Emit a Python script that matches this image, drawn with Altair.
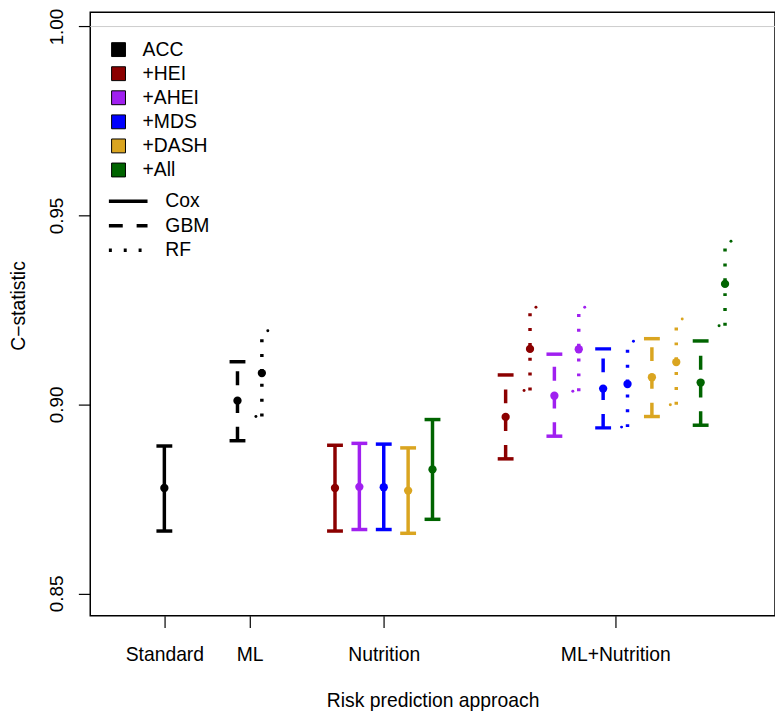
import altair as alt
import pandas as pd

# ---- data ----
series_names = ["ACC", "+HEI", "+AHEI", "+MDS", "+DASH", "+All"]
series_colors = ["#000000", "#8B0000", "#A020F0", "#0000FF", "#DAA520", "#006400"]
model_names = ["Cox", "GBM", "RF"]
model_dashes = [[1, 0], [14, 14], [3, 12]]

x_pos = [0, 3, 4, 7, 8, 9, 10, 11, 14, 15, 16, 17, 18, 19, 20, 21, 22, 23]
series = ["ACC", "ACC", "ACC", "+HEI", "+AHEI", "+MDS", "+DASH", "+All",
          "+HEI", "+HEI", "+AHEI", "+AHEI", "+MDS", "+MDS", "+DASH", "+DASH", "+All", "+All"]
model = ["Cox", "GBM", "RF", "Cox", "Cox", "Cox", "Cox", "Cox",
         "GBM", "RF", "GBM", "RF", "GBM", "RF", "GBM", "RF", "GBM", "RF"]
estimate = [0.8779, 0.9010, 0.9083, 0.8779, 0.8782, 0.8781, 0.8772, 0.8828,
            0.8967, 0.9147, 0.9023, 0.9146, 0.9042, 0.9054, 0.9072, 0.9112, 0.9058, 0.9319]
lower = [0.8665, 0.8904, 0.8968, 0.8665, 0.8669, 0.8669, 0.8659, 0.8696,
         0.8856, 0.9037, 0.8916, 0.9035, 0.8938, 0.8940, 0.8968, 0.8999, 0.8945, 0.9208]
upper = [0.8890, 0.9113, 0.9195, 0.8892, 0.8897, 0.8895, 0.8885, 0.8960,
         0.9078, 0.9257, 0.9133, 0.9257, 0.9147, 0.9167, 0.9174, 0.9226, 0.9168, 0.9432]

tick_values = [0, 3.5, 9, 18.5]
tick_labels = ["Standard", "ML", "Nutrition", "ML+Nutrition"]
y_ticks = [0.85, 0.90, 0.95, 1.00]
ref_line = [1.0]

df = pd.DataFrame({"x": x_pos, "series": series, "group": series, "model": model,
                   "estimate": estimate, "lower": lower, "upper": upper})

FONT = "Liberation Sans"

label_expr = ""
for v, lab in zip(tick_values, tick_labels):
    label_expr += f"datum.value == {v} ? '{lab}' : "
label_expr += "''"

x_axis = alt.Axis(values=tick_values, labelExpr=label_expr, tickSize=12, tickColor="black",
                  tickWidth=1.2, labelPadding=33, labelBaseline="alphabetic",
                  labelFontSize=19.5, labelFont=FONT, labelColor="black", domain=False,
                  grid=False, labelFlush=False, labelOverlap=False,
                  titleFontSize=19.5, titleFont=FONT, titleFontWeight="normal",
                  titleColor="black", titleBaseline="alphabetic", titleY=92, titleX=345.5)
y_axis = alt.Axis(values=y_ticks, format=".2f", labelAngle=270, labelAlign="center",
                  labelBaseline="alphabetic", labelPadding=16, tickSize=12, tickColor="black",
                  tickWidth=1.2, domain=False, grid=False, labelFontSize=19, labelFont=FONT,
                  labelColor="black", labelOverlap=False,
                  titleFontSize=19.5, titleFont=FONT, titleFontWeight="normal",
                  titleColor="black", titleAngle=270, titleAlign="center",
                  titleBaseline="alphabetic", titleX=-66, titleY=296)

x_scale = alt.Scale(domain=[-3.04, 25.05], nice=False, zero=False)
y_scale = alt.Scale(domain=[0.8441, 1.0038], nice=False, zero=False)

X = alt.X("x:Q", scale=x_scale, axis=x_axis, title="Risk prediction approach")


def Y(field):
    return alt.Y(f"{field}:Q", scale=y_scale, axis=y_axis, title="C−statistic")


# mark colours (no legend); domain listed in reverse so that it is a distinct scale
# from the legend-bearing fill scale (same mapping)
mark_scale = alt.Scale(domain=series_names[::-1], range=series_colors[::-1])


def C():
    return alt.Color("series:N", scale=mark_scale, legend=None)


base = alt.Chart(df)

ref = alt.Chart(pd.DataFrame({"v": ref_line})).mark_rule(
    color="#cccccc", strokeWidth=1).encode(y=Y("v"))

bars = base.mark_rule(strokeWidth=3.5).encode(
    x=X, y=Y("lower"), y2="upper:Q",
    stroke=alt.Stroke("series:N", scale=mark_scale, legend=None),
    strokeDash=alt.StrokeDash(
        "model:N", scale=alt.Scale(domain=model_names, range=model_dashes),
        legend=alt.Legend(title=None, orient="none", legendX=16.8, legendY=181,
                          symbolType="stroke", symbolSize=1521, symbolStrokeColor="black",
                          symbolStrokeWidth=3.5, labelFontSize=19.5, labelFont=FONT,
                          labelColor="black", labelOffset=16, rowPadding=3.7,
                          clipHeight=19.5, padding=0)))

caps = base.transform_filter("datum.model != 'RF'").transform_fold(
    ["lower", "upper"], as_=["end", "val"]
).mark_tick(orient="horizontal", size=16, thickness=3.5, opacity=1).encode(
    x=X, y=Y("val"), color=C())

rf_low = base.transform_filter("datum.model == 'RF'").mark_circle(
    size=9, opacity=1, xOffset=-6).encode(x=X, y=Y("lower"), color=C())
rf_up = base.transform_filter("datum.model == 'RF'").mark_circle(
    size=9, opacity=1, xOffset=6).encode(x=X, y=Y("upper"), color=C())

points = base.mark_circle(size=70, opacity=1).encode(
    x=X, y=Y("estimate"),
    fill=alt.Fill("group:N", scale=alt.Scale(domain=series_names, range=series_colors),
                  legend=alt.Legend(title=None, orient="none", legendX=18.8, legendY=28,
                                    symbolType="square", symbolSize=196,
                                    symbolStrokeColor="black", symbolStrokeWidth=1,
                                    symbolOpacity=1, labelFontSize=19.5, labelFont=FONT,
                                    labelColor="black", labelOffset=14.5, rowPadding=3.3,
                                    clipHeight=19.5, padding=0)))

chart = alt.layer(ref, bars, caps, rf_low, rf_up, points).properties(
    width=691, height=609,
    autosize=alt.AutoSizeParams(type="none"),
    padding={"left": 83, "top": 1, "right": 0, "bottom": 97},
    background="white",
).configure_view(stroke="black", strokeWidth=1.5)

chart.save("out.html", embed_options={"renderer": "svg", "actions": False})
